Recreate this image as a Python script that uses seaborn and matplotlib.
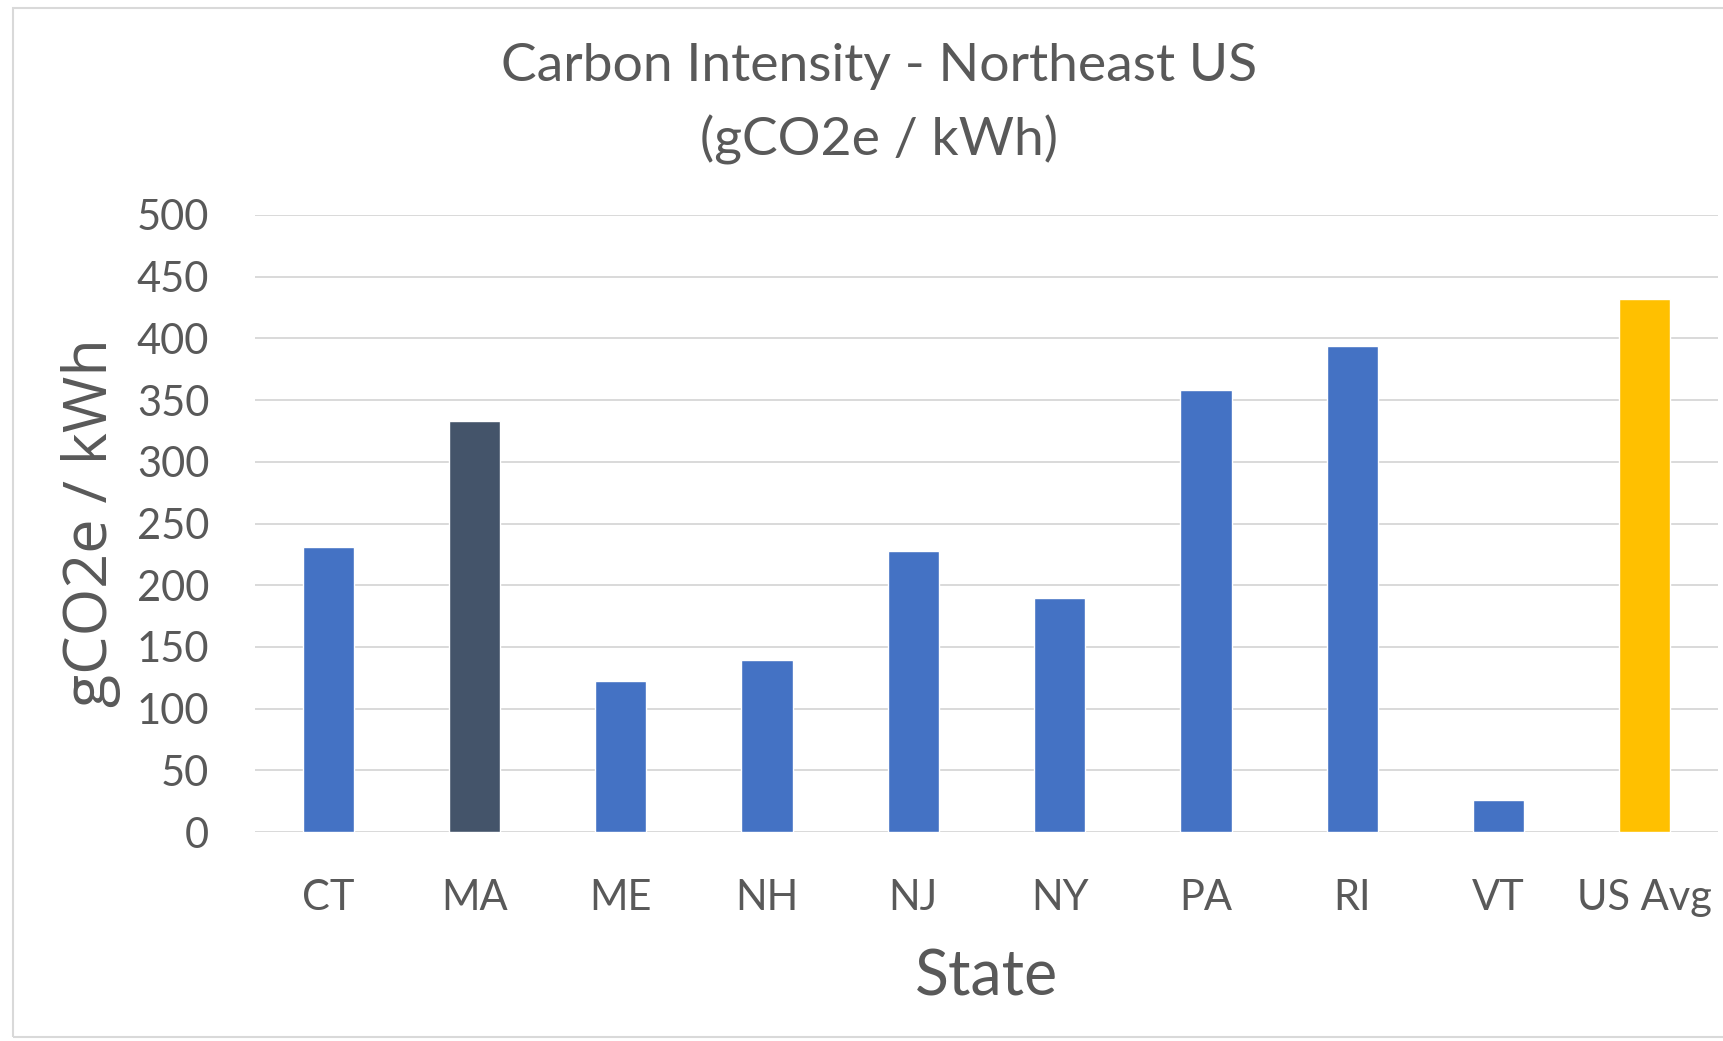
import matplotlib
matplotlib.use("Agg")
import matplotlib.pyplot as plt
import seaborn as sns
import pandas as pd
from matplotlib.patches import Rectangle

# values (gCO2e / kWh)
states = ["CT", "MA", "ME", "NH", "NJ", "NY", "PA", "RI", "VT", "US Avg"]
intensity = [231, 333, 122, 139, 228, 190, 358, 394, 26, 432]
bar_colors = ["#4472C4", "#44546A", "#4472C4", "#4472C4", "#4472C4",
              "#4472C4", "#4472C4", "#4472C4", "#4472C4", "#FFC000"]
y_ticks = [0, 50, 100, 150, 200, 250, 300, 350, 400, 450, 500]

df = pd.DataFrame({"State": states, "gCO2e": intensity})

sns.set_theme(style="white")
plt.rcParams["font.family"] = ["Lato", "DejaVu Sans"]
text_col = "#595959"

W, H = 1723, 1041
fig = plt.figure(figsize=(W / 100, H / 100), dpi=100)
left, right, bottom, top = 255, 1718, 832, 215
ax = fig.add_axes([left / W, 1 - bottom / H, (right - left) / W, (bottom - top) / H])

sns.barplot(data=df, x="State", y="gCO2e", hue="State",
            palette=dict(zip(states, bar_colors)), width=0.35,
            legend=False, saturation=1, ax=ax, zorder=3)

ax.set_ylim(0, 500)
ax.set_xlim(-0.5, len(states) - 0.5)
ax.set_yticks(y_ticks)
ax.yaxis.grid(True, color="#D9D9D9", linewidth=1.4, zorder=0)
ax.set_axisbelow(True)
for s in ax.spines.values():
    s.set_visible(False)
ax.tick_params(axis="both", length=0, colors=text_col, labelsize=30)
ax.tick_params(axis="y", pad=33)
ax.tick_params(axis="x", pad=34)

ax.set_xlabel("State", fontsize=45, color=text_col, va="center")
ax.xaxis.set_label_coords(0.5, (bottom - 977) / (bottom - top))
ax.set_ylabel("gCO2e / kWh", fontsize=44, color=text_col, va="center",
              family=["Open Sans", "DejaVu Sans"])
ax.yaxis.set_label_coords((91 - left) / (right - left), 0.502)

fig.text(879 / W, 1 - 104 / H, "Carbon Intensity - Northeast US\n(gCO2e / kWh)",
         ha="center", va="center", fontsize=38.5, color=text_col, linespacing=1.6)

# light chart-area border (cut off on the right like the source)
fig.patches.append(Rectangle((13 / W, 1 - 1037 / H), 1.0, (1037 - 8) / H,
                             transform=fig.transFigure, fill=False,
                             edgecolor="#D9D9D9", linewidth=1.5))

fig.savefig("out.png", dpi=100, facecolor="white")
